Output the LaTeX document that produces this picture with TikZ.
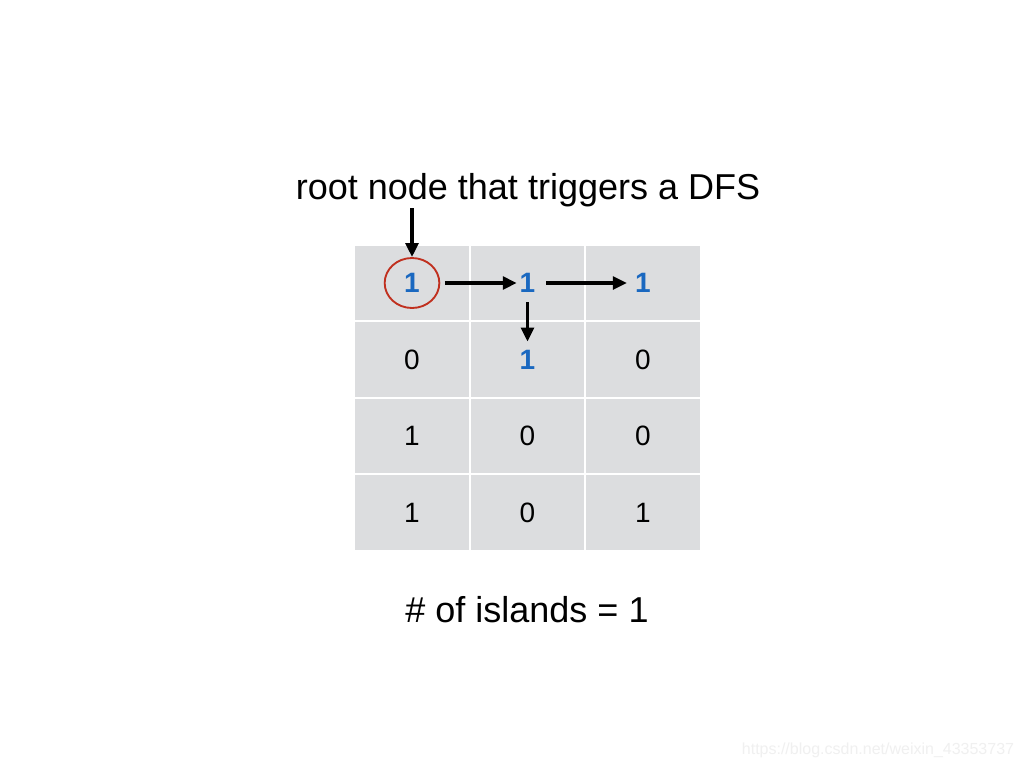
\documentclass[tikz,border=0pt]{standalone}
\usepackage{fontspec}
\setmainfont{Liberation Sans}
\usepackage{xcolor}
\usetikzlibrary{positioning,arrows.meta,calc,shapes.geometric}
\definecolor{cellgray}{RGB}{220,221,223}
\definecolor{visitblue}{RGB}{26,104,192}
\definecolor{rootred}{RGB}{192,48,31}
\tikzset{
  cell/.style={draw=white, line width=1.1pt, fill=cellgray, minimum width=86.25pt,
               minimum height=57pt, inner sep=0pt},
  val/.style={font=\fontsize{21}{25}\selectfont, inner sep=2pt},
  seen/.style={val, text=visitblue, font=\fontsize{21}{25}\selectfont\bfseries},
  caption/.style={font=\fontsize{27}{32}\selectfont, inner sep=0pt},
  root/.style={draw=rootred, line width=1.4pt, ellipse, minimum width=41pt,
               minimum height=37.5pt, inner sep=0pt},
  dfs/.style={-{Triangle[length=10.5pt, width=9.5pt]}, line width=2.6pt, black}
}
\begin{document}
\begin{tikzpicture}[x=0.75pt, y=-0.75pt]
  \useasboundingbox[fill=white] (0,0) rectangle (1024,768);
  % grid of cells
  \foreach \r/\y in {1/283, 2/359.5, 3/436, 4/512.5}
    \foreach \c/\x in {1/412, 2/527.5, 3/643}
      \node[cell] (cell-\r-\c) at (\x,\y) {};
  % values
  \foreach \r/\c/\v/\s in {1/1/1/seen, 1/2/1/seen, 1/3/1/seen,
                           2/1/0/val, 2/2/1/seen, 2/3/0/val,
                           3/1/1/val, 3/2/0/val, 3/3/0/val,
                           4/1/1/val, 4/2/0/val, 4/3/1/val}
    \node[\s] (v-\r-\c) at (cell-\r-\c) {\v};
  \node[root] (start) at (cell-1-1) {};
  \node[caption] (title) at (528,190) {root node that triggers a DFS};
  \node[caption] (count) at (527,610) {\# of islands = 1};
  \node[font=\fontsize{12}{14}\selectfont, text=black!6] (mark) at (878,750)
    {https://blog.csdn.net/weixin\_43353737};
  % DFS steps
  \draw[dfs] (title.south -| start) ++(0,1) -- (start.north);
  \draw[dfs, shorten <=3.5pt] (start.east) -- (v-1-2.west);
  \draw[dfs, shorten <=6pt, shorten >=4pt] (v-1-2.east) -- (v-1-3.west);
  \draw[dfs, shorten <=5pt, shorten >=4pt] (v-1-2.south) -- (v-2-2.north);
\end{tikzpicture}
\end{document}
